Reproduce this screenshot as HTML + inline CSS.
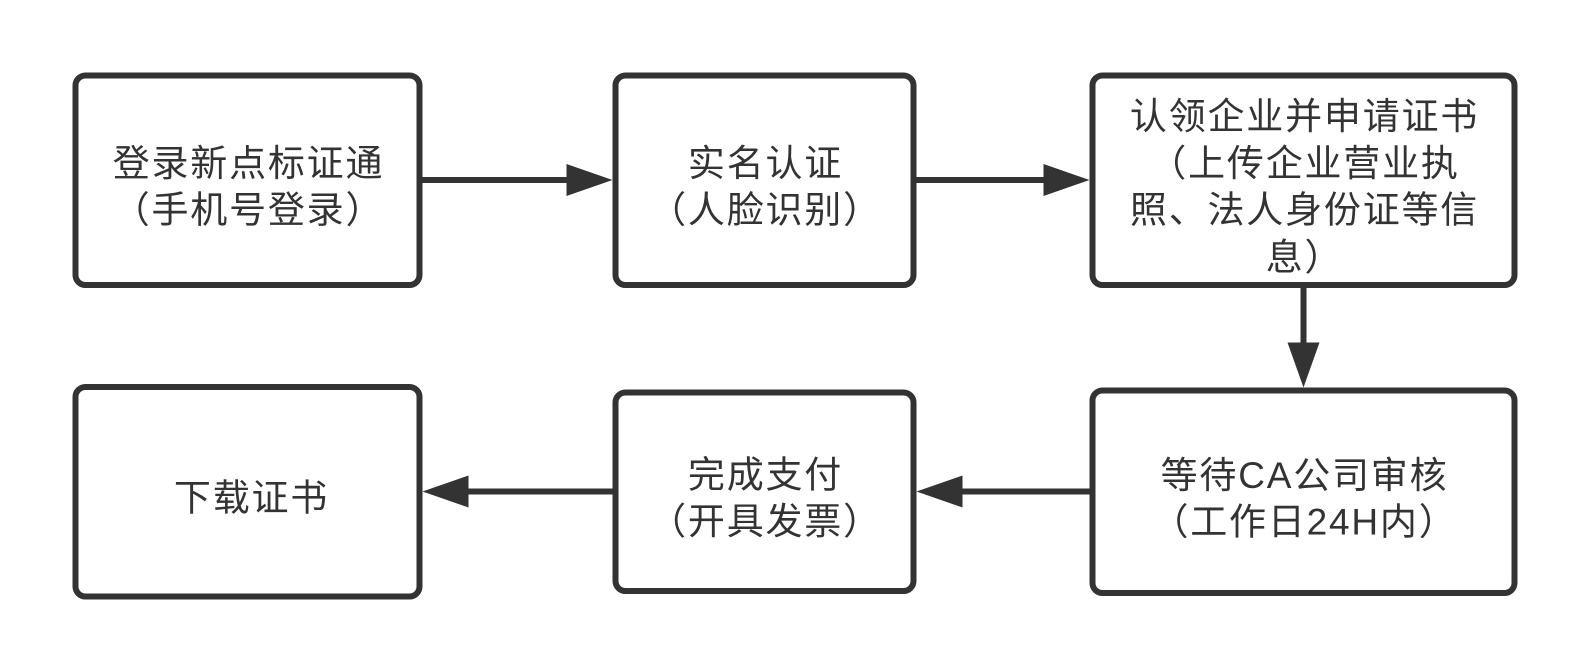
<!DOCTYPE html>
<html>
<head>
<meta charset="utf-8">
<style>
  html, body { margin: 0; padding: 0; background: #ffffff; }
  body { width: 1590px; height: 672px; overflow: hidden; }
  svg { display: block; }
  text {
    font-family: "Liberation Sans", "Noto Sans CJK SC", sans-serif;
    font-size: 37px;
    letter-spacing: 1.8px;
    fill: #333333;
    text-anchor: middle;
  }
</style>
</head>
<body>
<svg width="1590" height="672" viewBox="0 0 1590 672" xmlns="http://www.w3.org/2000/svg">
  <rect x="0" y="0" width="1590" height="672" fill="#ffffff"/>

  <!-- Boxes -->
  <g fill="#ffffff" stroke="#333333" stroke-width="6">
    <rect x="75.5" y="75.5" width="344" height="209.5" rx="10" ry="10"/>
    <rect x="615.5" y="75.5" width="298" height="209.5" rx="10" ry="10"/>
    <rect x="1092.5" y="75.5" width="422" height="209.5" rx="10" ry="10"/>
    <rect x="75.5" y="387" width="344" height="209.5" rx="10" ry="10"/>
    <rect x="615.5" y="392.5" width="298" height="198.5" rx="10" ry="10"/>
    <rect x="1092.5" y="390.5" width="422" height="202.5" rx="10" ry="10"/>
  </g>

  <!-- Connectors -->
  <g stroke="#333333" stroke-width="6" fill="none">
    <line x1="422.5" y1="180" x2="570" y2="180"/>
    <line x1="916.5" y1="180" x2="1047" y2="180"/>
    <line x1="1303.5" y1="288" x2="1303.5" y2="346"/>
    <line x1="1089.5" y1="491.5" x2="959" y2="491.5"/>
    <line x1="612.5" y1="491.5" x2="465" y2="491.5"/>
  </g>
  <g fill="#333333" stroke="none">
    <polygon points="566.5,164 612.5,180 566.5,196"/>
    <polygon points="1043.5,164 1089.5,180 1043.5,196"/>
    <polygon points="1287.5,342.5 1303.5,387.5 1319.5,342.5"/>
    <polygon points="962.5,475.5 916.5,491.5 962.5,507.5"/>
    <polygon points="468.5,475.5 422.5,491.5 468.5,507.5"/>
  </g>

  <!-- Labels -->
  <text x="248.5" y="176">登录新点标证通</text>
  <text x="248.5" y="222.5">（手机号登录）</text>

  <text x="765.5" y="176">实名认证</text>
  <text x="765.5" y="222.5">（人脸识别）</text>

  <text x="1304.5" y="129">认领企业并申请证书</text>
  <text x="1304.5" y="176">（上传企业营业执</text>
  <text x="1304.5" y="222.5">照、法人身份证等信</text>
  <text x="1304.5" y="270">息）</text>

  <text x="251.5" y="510.5">下载证书</text>

  <text x="765.5" y="487.5">完成支付</text>
  <text x="765.5" y="534">（开具发票）</text>

  <text x="1304.5" y="488">等待CA公司审核</text>
  <text x="1304.5" y="534.5">（工作日24H内）</text>
</svg>
</body>
</html>
